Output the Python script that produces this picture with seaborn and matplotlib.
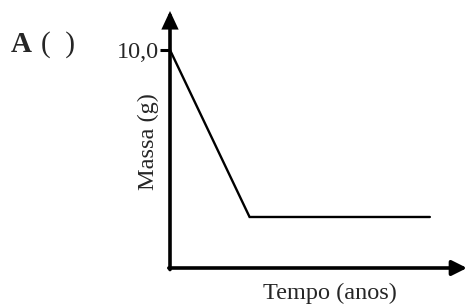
import matplotlib
matplotlib.use("Agg")
import matplotlib.pyplot as plt
import seaborn as sns
import pandas as pd

# data (arbitrary time units)
tempo = [0.0, 2.67, 8.72]
massa = [10.0, 2.34, 2.34]
ytick_vals = [10.0]
ytick_labels = ["10,0"]

sns.set_style("white")
plt.rcParams['font.family'] = ['Liberation Serif', 'DejaVu Serif']

W, H = 468, 307
fig = plt.figure(figsize=(W / 100, H / 100), dpi=100)
x0, x1, y0, y1 = 170, 467, 268, 11
ax = fig.add_axes([x0 / W, (H - y0) / H, (x1 - x0) / W, (y0 - y1) / H])
ax.patch.set_alpha(0)

df = pd.DataFrame({"Tempo": tempo, "Massa": massa})
sns.lineplot(data=df, x="Tempo", y="Massa", ax=ax, color="black", lw=1.7,
             solid_joinstyle="miter", estimator=None, sort=False)

ax.set_xlim(0, 10 * (466 - 170) / (467 - 170))
ax.set_ylim(0, 10.0 * (y0 - y1) / (y0 - 50))
for s in ax.spines.values():
    s.set_visible(False)
ax.set_xticks([])
ax.set_yticks(ytick_vals)
ax.set_yticklabels(ytick_labels, fontsize=17.5)
ax.tick_params(axis="y", direction="out", length=7, width=2.2, pad=1, color="black", left=True)
ax.set_xlabel("")
ax.set_ylabel("")

# axis arrows
ax.annotate("", xy=(0, 1), xytext=(0, -0.006), xycoords="axes fraction",
            arrowprops=dict(arrowstyle="-|>,head_length=0.9,head_width=0.42", lw=2.6,
                            color="black", shrinkA=0, shrinkB=0, joinstyle="miter"))
ax.annotate("", xy=(1, 0), xytext=(-0.004, 0), xycoords="axes fraction",
            arrowprops=dict(arrowstyle="-|>,head_length=0.9,head_width=0.45", lw=2.6,
                            color="black", shrinkA=0, shrinkB=0))

fig.text(330 / W, 1 - 293 / H, "Tempo (anos)", fontsize=17.5, ha="center", va="center")
fig.text(148 / W, 1 - 142 / H, "Massa (g)", fontsize=17.5, ha="center", va="center", rotation=90)
fig.text(11 / W, 1 - 45 / H, "A", fontsize=21, fontweight="bold", ha="left", va="center")
fig.text(41 / W, 1 - 45 / H, "(  )", fontsize=21, ha="left", va="center")

fig.savefig("out.png", dpi=100)
